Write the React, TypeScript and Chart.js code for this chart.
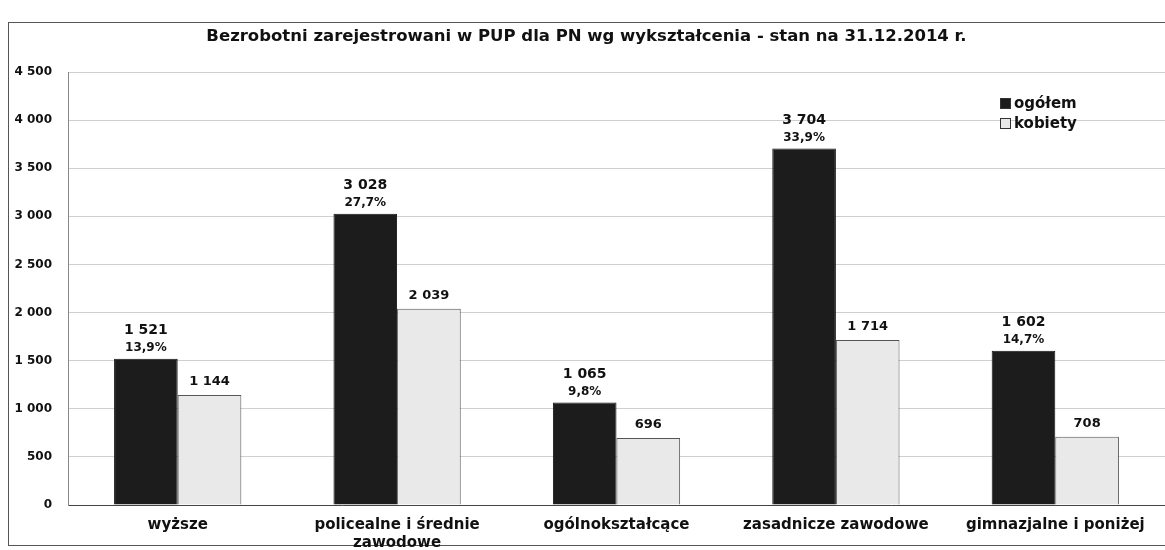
import React, { useEffect, useRef } from "react";
import { Chart, registerables } from "chart.js";

Chart.register(...registerables);

const categories: string[][] = [
  ["wyższe"],
  ["policealne i średnie", "zawodowe"],
  ["ogólnokształcące"],
  ["zasadnicze zawodowe"],
  ["gimnazjalne i poniżej"],
];
const ogolem = [1521, 3028, 1065, 3704, 1602];
const kobiety = [1144, 2039, 696, 1714, 708];
const udzial = ["13,9%", "27,7%", "9,8%", "33,9%", "14,7%"];
const seriesNames = ["ogółem", "kobiety"];
const yTicks = [0, 500, 1000, 1500, 2000, 2500, 3000, 3500, 4000, 4500];
const titleText = "Bezrobotni zarejestrowani w PUP dla PN wg wykształcenia - stan na 31.12.2014 r.";

const FONT = "'DejaVu Sans', Verdana, sans-serif";
const DARK = "#1c1c1c";
const LIGHT = "#e9e9e9";

const fmt = (v: number) => String(v).replace(/\B(?=(\d{3})+(?!\d))/g, " ");

const framePlugin = {
  id: "frame",
  beforeDraw(chart: any) {
    const ctx = chart.ctx;
    ctx.save();
    ctx.fillStyle = "#ffffff";
    ctx.fillRect(0, 0, chart.width, chart.height);
    ctx.strokeStyle = "#555";
    ctx.lineWidth = 1;
    ctx.strokeRect(8.5, 22.5, chart.width + 10, 523);
    ctx.restore();
  },
};

const labelsPlugin = {
  id: "barLabels",
  afterDatasetsDraw(chart: any) {
    const ctx = chart.ctx;
    ctx.save();
    ctx.fillStyle = "#111";
    ctx.textAlign = "center";
    ctx.textBaseline = "alphabetic";
    const m0 = chart.getDatasetMeta(0);
    m0.data.forEach((bar: any, i: number) => {
      ctx.font = `bold 12px ${FONT}`;
      ctx.fillText(udzial[i], bar.x, bar.y - 8);
      ctx.font = `bold 14px ${FONT}`;
      ctx.fillText(fmt(ogolem[i]), bar.x, bar.y - 25);
    });
    const m1 = chart.getDatasetMeta(1);
    m1.data.forEach((bar: any, i: number) => {
      ctx.font = `bold 13px ${FONT}`;
      ctx.fillText(fmt(kobiety[i]), bar.x, bar.y - 10);
    });
    ctx.restore();
  },
};

const legendPlugin = {
  id: "customLegend",
  afterDraw(chart: any) {
    const ctx = chart.ctx;
    ctx.save();
    const x = 1000;
    const ys = [103, 123];
    const fills = [DARK, LIGHT];
    ctx.font = `bold 15px ${FONT}`;
    ctx.textBaseline = "middle";
    ctx.textAlign = "left";
    seriesNames.forEach((name, i) => {
      ctx.fillStyle = fills[i];
      ctx.fillRect(x, ys[i] - 5, 11, 11);
      ctx.strokeStyle = "#333";
      ctx.lineWidth = 1;
      ctx.strokeRect(x + 0.5, ys[i] - 4.5, 10, 10);
      ctx.fillStyle = "#111";
      ctx.fillText(name, x + 14, ys[i] + 1);
    });
    ctx.restore();
  },
};

export default function App() {
  const ref = useRef<HTMLCanvasElement | null>(null);
  useEffect(() => {
    document.body.style.margin = "0";
    const canvas = ref.current!;
    const chart = new Chart(canvas, {
      type: "bar",
      data: {
        labels: categories,
        datasets: [
          {
            label: seriesNames[0],
            data: ogolem,
            backgroundColor: DARK,
            borderColor: "#111",
            borderWidth: 1,
            categoryPercentage: 0.58,
            barPercentage: 1,
          },
          {
            label: seriesNames[1],
            data: kobiety,
            backgroundColor: LIGHT,
            borderColor: "#555",
            borderWidth: 1,
            categoryPercentage: 0.58,
            barPercentage: 1,
          },
        ],
      },
      options: {
        responsive: false,
        animation: false,
        layout: { padding: { left: 8, right: 0, top: 0, bottom: 0 } },
        plugins: {
          legend: { display: false },
          tooltip: { enabled: false },
          title: {
            display: true,
            text: titleText,
            color: "#111",
            font: { family: FONT, size: 16.5, weight: "bold" },
            padding: { top: 27, bottom: 25.2 },
          },
        },
        scales: {
          x: {
            grid: { display: false, drawTicks: false },
            border: { display: true, color: "#444", width: 1 },
            ticks: {
              color: "#111",
              padding: 11,
              font: { family: FONT, size: 15, weight: "bold" },
              maxRotation: 0,
              autoSkip: false,
            },
            afterFit: (s: any) => {
              s.height = 45;
            },
          },
          y: {
            min: 0,
            max: 4500,
            afterBuildTicks: (s: any) => {
              s.ticks = yTicks.map((v) => ({ value: v }));
            },
            grid: { color: "#cfcfcf", lineWidth: 1, drawTicks: false },
            border: { display: true, color: "#888", width: 1 },
            ticks: {
              color: "#111",
              padding: 16,
              font: { family: FONT, size: 12, weight: "bold" },
              callback: (v: any) => fmt(Number(v)),
            },
            afterFit: (s: any) => {
              s.width = 60;
            },
          },
        },
      },
      plugins: [framePlugin, labelsPlugin, legendPlugin],
    });
    return () => chart.destroy();
  }, []);
  return <canvas ref={ref} width={1165} height={550} style={{ display: "block" }} />;
}
